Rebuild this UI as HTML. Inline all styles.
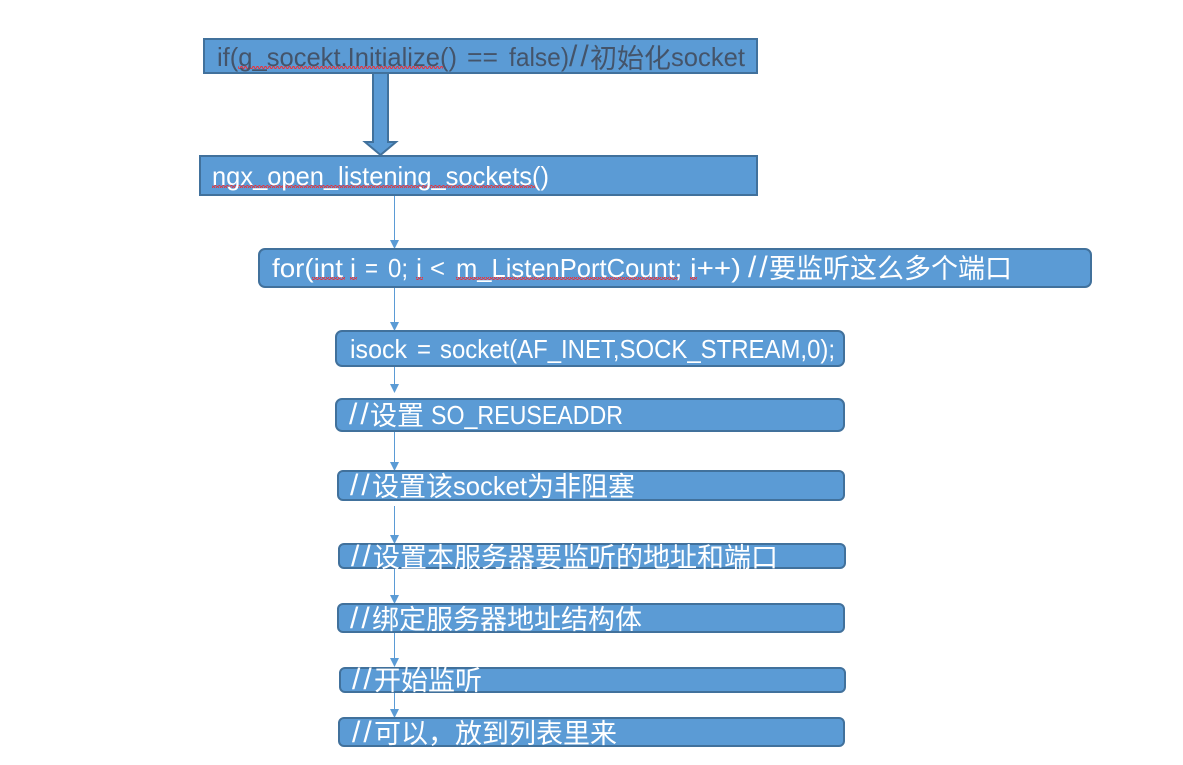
<!DOCTYPE html>
<html>
<head>
<meta charset="utf-8">
<style>
html,body{margin:0;padding:0;background:#fff;width:1183px;height:765px;overflow:hidden}
svg{display:block}
text{font-family:"Liberation Sans","Noto Sans CJK SC",sans-serif;font-size:26px;fill:#fff}
.c{font-size:27px}
.d{fill:#44546A}
.s{font-size:30px;letter-spacing:3px}
.b{fill:#5B9BD5;stroke:#41719C;stroke-width:2}
.l{stroke:#5B9BD5;stroke-width:1;fill:none}
.h{fill:#5B9BD5}
</style>
</head>
<body>
<svg width="1183" height="765" viewBox="0 0 1183 765" xmlns="http://www.w3.org/2000/svg">
<defs>
<pattern id="wave" width="4" height="3" patternUnits="userSpaceOnUse">
<path d="M0 2.5 L1 .5 L2 .5 L3 2.5 L4 2.5" fill="none" stroke="#E8323C" stroke-width="1"/>
</pattern>
</defs>
<!-- thick arrow -->
<polygon points="373,73 388,73 388,142 396,142 380.5,155 365,142 373,142" fill="#5B9BD5" stroke="#41719C" stroke-width="2"/>
<!-- connectors -->
<line class="l" x1="394.5" y1="195" x2="394.5" y2="242"/><polygon class="h" points="390,240 399,240 394.5,249"/>
<line class="l" x1="394.5" y1="287" x2="394.5" y2="324"/><polygon class="h" points="390,322 399,322 394.5,331"/>
<line class="l" x1="394.5" y1="366" x2="394.5" y2="386"/><polygon class="h" points="390,384 399,384 394.5,393"/>
<line class="l" x1="394.5" y1="431" x2="394.5" y2="465"/><polygon class="h" points="390,462 399,462 394.5,471"/>
<line class="l" x1="394.5" y1="506" x2="394.5" y2="537"/><polygon class="h" points="390,535 399,535 394.5,544"/>
<line class="l" x1="394.5" y1="568" x2="394.5" y2="597"/><polygon class="h" points="390,595 399,595 394.5,604"/>
<line class="l" x1="394.5" y1="632" x2="394.5" y2="661"/><polygon class="h" points="390,658 399,658 394.5,667"/>
<line class="l" x1="394.5" y1="692" x2="394.5" y2="711"/><polygon class="h" points="390,709 399,709 394.5,718"/>
<!-- boxes -->
<rect class="b" x="204" y="39" width="553" height="34"/>
<rect class="b" x="200" y="156" width="557" height="39"/>
<rect class="b" x="259" y="249" width="832" height="38" rx="6"/>
<rect class="b" x="336" y="331" width="508" height="35" rx="6"/>
<rect class="b" x="336" y="399" width="508" height="32" rx="6"/>
<rect class="b" x="338" y="471" width="506" height="29" rx="5"/>
<rect class="b" x="339" y="544" width="506" height="24" rx="5"/>
<rect class="b" x="338" y="604" width="506" height="28" rx="5"/>
<rect class="b" x="340" y="668" width="505" height="24" rx="5"/>
<rect class="b" x="339" y="718" width="505" height="28" rx="5"/>
<!-- spell-check underlines -->
<rect x="238" y="66" width="205" height="3" fill="url(#wave)"/>
<rect x="212" y="185" width="326" height="3" fill="url(#wave)"/>
<rect x="312" y="277" width="33" height="3" fill="url(#wave)"/>
<rect x="350" y="277" width="7" height="3" fill="url(#wave)"/>
<rect x="416" y="277" width="7" height="3" fill="url(#wave)"/>
<rect x="456" y="277" width="223" height="3" fill="url(#wave)"/>
<rect x="690" y="277" width="7" height="3" fill="url(#wave)"/>
<!-- box 1 -->
<text class="d" x="217" y="66" textLength="240" lengthAdjust="spacingAndGlyphs">if(g_socekt.Initialize()</text>
<text class="d" x="467" y="66" textLength="31" lengthAdjust="spacingAndGlyphs">==</text>
<text class="d" x="509" y="66" textLength="60" lengthAdjust="spacingAndGlyphs">false)</text>
<text class="d s" x="569" y="66">//</text>
<text class="d c" x="590" y="68" textLength="81" lengthAdjust="spacing">初始化</text>
<text class="d" x="671" y="66" textLength="74" lengthAdjust="spacingAndGlyphs">socket</text>
<!-- box 2 -->
<text x="212" y="185" textLength="337" lengthAdjust="spacingAndGlyphs">ngx_open_listening_sockets()</text>
<!-- box 3 -->
<text x="272" y="277" textLength="71" lengthAdjust="spacingAndGlyphs">for(int</text>
<text x="350" y="277" textLength="6" lengthAdjust="spacingAndGlyphs">i</text>
<text x="365" y="277" textLength="13" lengthAdjust="spacingAndGlyphs">=</text>
<text x="388" y="277" textLength="20" lengthAdjust="spacingAndGlyphs">0;</text>
<text x="416" y="277" textLength="6" lengthAdjust="spacingAndGlyphs">i</text>
<text x="430" y="277" textLength="15" lengthAdjust="spacingAndGlyphs">&lt;</text>
<text x="456" y="277" textLength="226" lengthAdjust="spacingAndGlyphs">m_ListenPortCount;</text>
<text x="690" y="277" textLength="51" lengthAdjust="spacingAndGlyphs">i++)</text>
<text class="s" x="748" y="277">//</text>
<text class="c" x="769" y="278" textLength="243" lengthAdjust="spacing">要监听这么多个端口</text>
<!-- box 4 -->
<text x="350" y="358" textLength="57" lengthAdjust="spacingAndGlyphs">isock</text>
<text x="417" y="358" textLength="14" lengthAdjust="spacingAndGlyphs">=</text>
<text x="440" y="358" textLength="395" lengthAdjust="spacingAndGlyphs">socket(AF_INET,SOCK_STREAM,0);</text>
<!-- box 5 -->
<text class="s" x="349" y="424">//</text>
<text class="c" x="370" y="425" textLength="54" lengthAdjust="spacing">设置</text>
<text x="431" y="424" textLength="192" lengthAdjust="spacingAndGlyphs">SO_REUSEADDR</text>
<!-- box 6 -->
<text class="s" x="350" y="495">//</text>
<text class="c" x="372" y="496" textLength="81" lengthAdjust="spacing">设置该</text>
<text x="453" y="495" textLength="74" lengthAdjust="spacingAndGlyphs">socket</text>
<text class="c" x="527" y="496" textLength="108" lengthAdjust="spacing">为非阻塞</text>
<!-- box 7 -->
<text class="s" x="351" y="566">//</text>
<text class="c" x="373" y="567" textLength="405" lengthAdjust="spacing">设置本服务器要监听的地址和端口</text>
<!-- box 8 -->
<text class="s" x="350" y="628">//</text>
<text class="c" x="372" y="629" textLength="270" lengthAdjust="spacing">绑定服务器地址结构体</text>
<!-- box 9 -->
<text class="s" x="352" y="689">//</text>
<text class="c" x="374" y="690" textLength="108" lengthAdjust="spacing">开始监听</text>
<!-- box 10 -->
<text class="s" x="352" y="742">//</text>
<text class="c" x="374" y="743" textLength="243" lengthAdjust="spacing">可以，放到列表里来</text>
</svg>
</body>
</html>
